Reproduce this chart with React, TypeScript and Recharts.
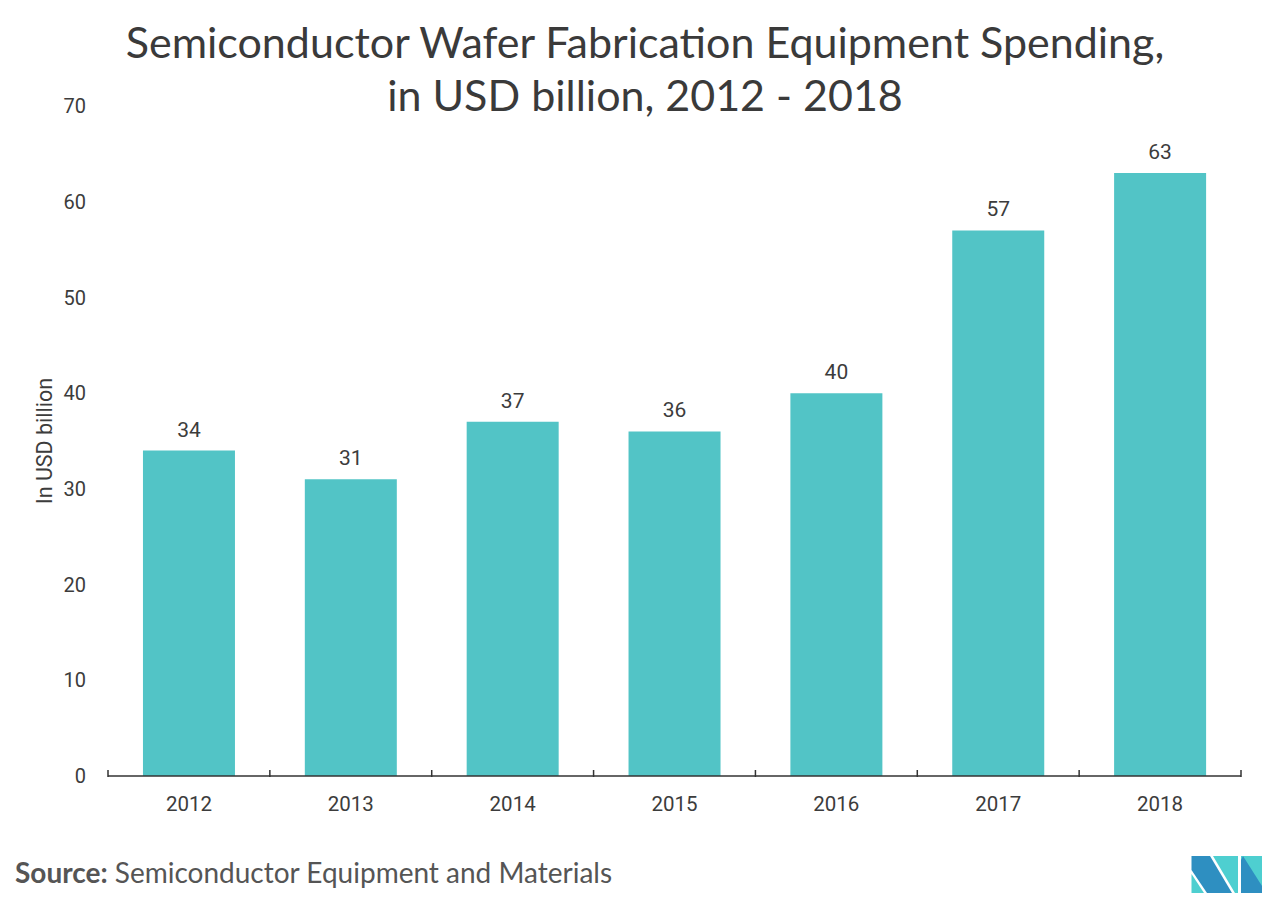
import React from 'react';
import { BarChart, Bar, XAxis, YAxis, LabelList } from 'recharts';

// Values
const YEARS = ['2012', '2013', '2014', '2015', '2016', '2017', '2018'];
const SPENDING = [34, 31, 37, 36, 40, 57, 63];
const Y_TICKS = [0, 10, 20, 30, 40, 50, 60, 70];

const BAR_COLOR = '#52c4c6';
const TEXT_COLOR = '#3c3c3c';
const AXIS_COLOR = '#333333';

const data = YEARS.map((year, i) => ({ year, value: SPENDING[i] }));

// x tick: label at category centre, tick marks at category edges
const YearTick = (props: any) => {
  const { x, y, payload, index } = props;
  const half = payload && payload.offset ? payload.offset : 81;
  const isLast = index === YEARS.length - 1;
  return (
    <g>
      <line x1={x - half} y1={y - 8} x2={x - half} y2={y - 1} stroke={AXIS_COLOR} strokeWidth={1.5} />
      {isLast && (
        <line x1={x + half} y1={y - 8} x2={x + half} y2={y - 1} stroke={AXIS_COLOR} strokeWidth={1.5} />
      )}
      <text x={x} y={y + 33} textAnchor="middle" fill={TEXT_COLOR} fontSize={20.5} fontFamily="Roboto">
        {payload.value}
      </text>
    </g>
  );
};

const Logo = () => (
  <svg width={80} height={45} style={{ position: 'absolute', left: 1188, top: 852 }} viewBox="1188 852 80 45">
    <polygon points="1191.5,856 1210,856 1232,893 1207,893 1191.5,870" fill="#2e8fc1" />
    <polygon points="1191.5,874 1191.5,893 1204,893" fill="#4ecfd0" />
    <polygon points="1213,856 1238,856 1238,893 1235,893" fill="#4ecfd0" />
    <polygon points="1241,856 1262,856 1262,893 1241,893" fill="#4ecfd0" />
    <polygon points="1241,860 1243,856 1262,886 1262,893 1241,893" fill="#2e8fc1" />
  </svg>
);

export default function App() {
  return (
    <div style={{ position: 'absolute', left: 0, top: 0, width: 1265, height: 910, background: '#fff' }}>
      <div
        style={{
          position: 'absolute',
          left: 0,
          top: 15,
          width: 1290,
          textAlign: 'center',
          fontFamily: 'Lato',
          fontSize: 43,
          lineHeight: '53px',
          color: '#3a3a3a',
        }}
      >
        Semiconductor Wafer Fabrication Equipment Spending,
        <br />
        in USD billion, 2012 - 2018
      </div>

      <div style={{ position: 'absolute', left: 0, top: 0 }}>
        <BarChart
          width={1265}
          height={830}
          data={data}
          margin={{ top: 106, right: 24, bottom: 14, left: 48 }}
          barCategoryGap="21.6%"
        >
          <YAxis
            domain={[0, 70]}
            ticks={Y_TICKS}
            width={60}
            axisLine={false}
            tickLine={false}
            tickSize={0}
            tickMargin={22}
            tick={{ fill: TEXT_COLOR, fontSize: 20, fontFamily: 'Roboto' }}
            label={{
              value: 'In USD billion',
              angle: -90,
              position: 'insideLeft',
              offset: -4,
              style: { textAnchor: 'middle', fill: TEXT_COLOR, fontSize: 21.5, fontFamily: 'Roboto' },
            }}
          />
          <XAxis
            dataKey="year"
            height={40}
            axisLine={{ stroke: AXIS_COLOR, strokeWidth: 1.5 }}
            tickLine={false}
            tickSize={0}
            tick={<YearTick />}
            interval={0}
          />
          <Bar dataKey="value" fill={BAR_COLOR} isAnimationActive={false}>
            <LabelList
              dataKey="value"
              position="top"
              offset={14}
              fill={TEXT_COLOR}
              fontSize={21}
              fontFamily="Roboto"
            />
          </Bar>
        </BarChart>
      </div>

      <div
        style={{
          position: 'absolute',
          left: 15,
          top: 855,
          fontFamily: 'Lato',
          fontSize: 28,
          color: '#555',
          whiteSpace: 'nowrap',
        }}
      >
        <b>Source:</b> Semiconductor Equipment and Materials
      </div>
      <Logo />
    </div>
  );
}
